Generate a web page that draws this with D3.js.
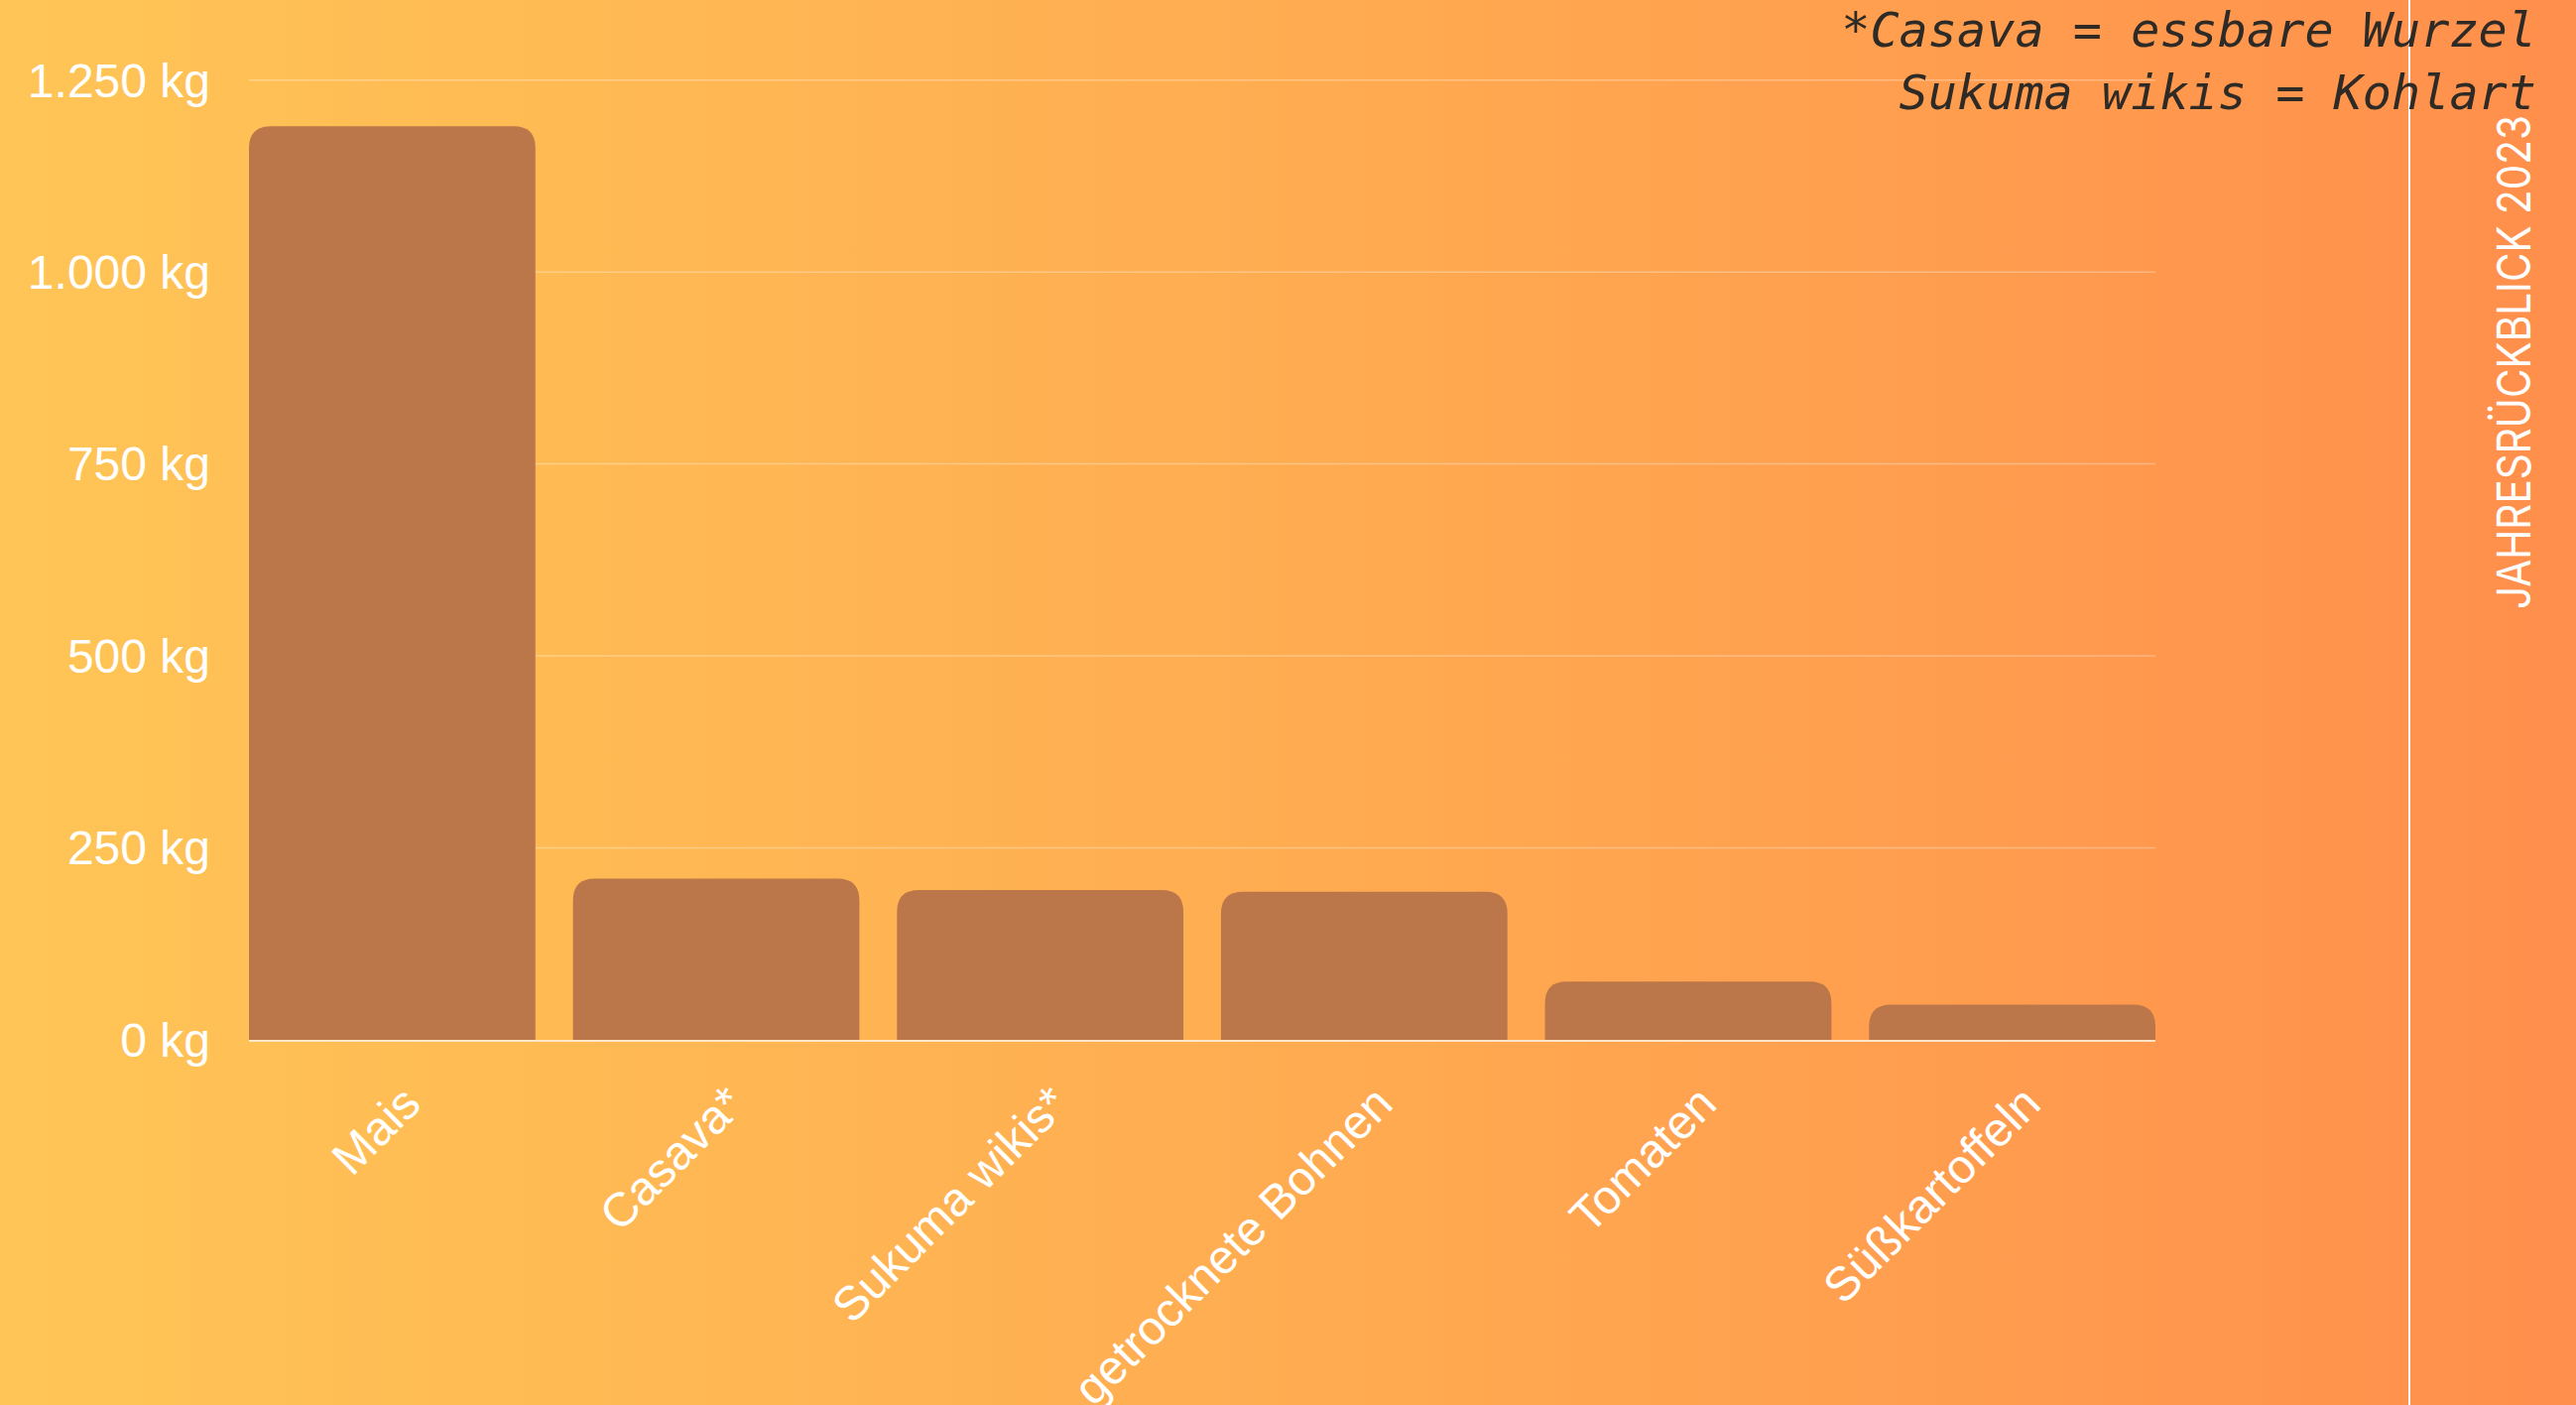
<!DOCTYPE html>
<html><head><meta charset="utf-8">
<script src="https://cdn.jsdelivr.net/npm/d3@7"></script>
<style>html,body{margin:0;padding:0;overflow:hidden;background:#ffb050;}</style>
</head><body><svg id="c" width="2597" height="1416"></svg>
<script>
const categories = ["Mais","Casava*","Sukuma wikis*","getrocknete Bohnen","Tomaten","Süßkartoffeln"];
const values = [1190,210,195,193,76,46];
const yTicks = [0,250,500,750,1000,1250];
const tickLabels = ["0 kg","250 kg","500 kg","750 kg","1.000 kg","1.250 kg"];
const notes = ["*Casava = essbare Wurzel","Sukuma wikis = Kohlart"];
const sideTitle = "JAHRESRÜCKBLICK 2023";

const W = 2597, H = 1416;
const svg = d3.select("#c");
const defs = svg.append("defs");
const grad = defs.append("linearGradient").attr("id","bg").attr("x1","0").attr("x2","1").attr("y1","0").attr("y2","0");
grad.append("stop").attr("offset","0").attr("stop-color","#ffc556");
grad.append("stop").attr("offset","0.5").attr("stop-color","#ffac51");
grad.append("stop").attr("offset","1").attr("stop-color","#ff8f4c");
svg.append("rect").attr("width",W).attr("height",H).attr("fill","url(#bg)");

const x = d3.scaleBand().domain(categories).range([251,2173]).paddingInner(0.116).paddingOuter(0);
const y = d3.scaleLinear().domain([0,1250]).range([1048,80.7]);
const data = categories.map((c,i)=>({c, v: values[i]}));

// gridlines
svg.append("g").selectAll("line").data(yTicks.filter(t=>t>0)).join("line")
  .attr("x1",x.range()[0]).attr("x2",x.range()[1])
  .attr("y1",d=>y(d)).attr("y2",d=>y(d))
  .attr("stroke","rgba(255,255,255,0.3)").attr("stroke-width",1.5);

// bars with rounded top corners
function barPath(x0, w, yTop, yBot, r){
  r = Math.min(r, (yBot-yTop), w/2);
  return `M${x0},${yBot}V${yTop+r}Q${x0},${yTop} ${x0+r},${yTop}H${x0+w-r}Q${x0+w},${yTop} ${x0+w},${yTop+r}V${yBot}Z`;
}
svg.append("g").selectAll("path").data(data).join("path")
  .attr("d",d=>barPath(x(d.c), x.bandwidth(), y(d.v), y(0), 22))
  .attr("fill","#bb774a");

// baseline
svg.append("line").attr("x1",x.range()[0]).attr("x2",x.range()[1])
  .attr("y1",y(0)+1).attr("y2",y(0)+1)
  .attr("stroke","rgba(255,240,220,0.85)").attr("stroke-width",2);

// y axis
const yAxis = d3.axisLeft(y).tickValues(yTicks).tickFormat((d,i)=>tickLabels[i]).tickSize(0).tickPadding(0);
const gy = svg.append("g").attr("transform","translate(212,0)").call(yAxis);
gy.select(".domain").remove();
gy.selectAll("text").attr("fill","#ffffff").attr("font-family","'Liberation Sans', Arial, sans-serif").attr("font-size",48).attr("dy","0.34em");

// x labels
svg.append("g").selectAll("text").data(categories).join("text")
  .attr("transform",d=>`translate(${x(d)+x.bandwidth()/2+31},1115) rotate(-45)`)
  .attr("text-anchor","end")
  .attr("fill","#ffffff")
  .attr("font-family","'Liberation Sans', Arial, sans-serif")
  .attr("font-size",48)
  .text(d=>d);

// vertical line
svg.append("line").attr("x1",2429).attr("x2",2429).attr("y1",0).attr("y2",H)
  .attr("stroke","#ffffff").attr("stroke-width",2);

// side title
svg.append("text")
  .attr("transform","translate(2551,614) rotate(-90)")
  .attr("fill","#ffffff")
  .attr("font-family","Inter, 'Noto Sans', sans-serif")
  .attr("font-size",46)
  .attr("textLength",498).attr("lengthAdjust","spacingAndGlyphs")
  .text(sideTitle);

// notes
svg.append("g").selectAll("text").data(notes).join("text")
  .attr("x",2557).attr("y",(d,i)=>47+i*63)
  .attr("text-anchor","end")
  .attr("fill","#2e2a26")
  .attr("font-family","'DejaVu Sans Mono', monospace")
  .attr("font-style","italic")
  .attr("font-size",48.5)
  .text(d=>d);
</script></body></html>
